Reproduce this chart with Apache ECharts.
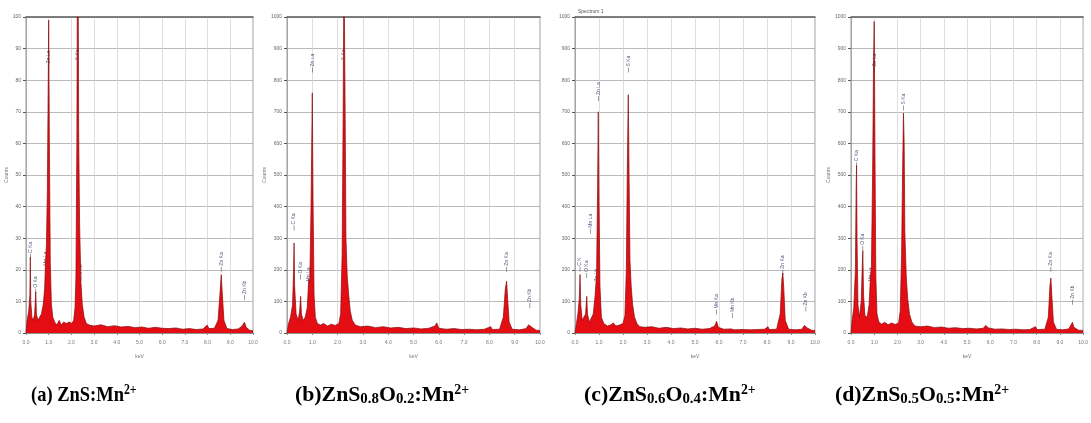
<!DOCTYPE html>
<html>
<head>
<meta charset="utf-8">
<script src="https://cdn.jsdelivr.net/npm/echarts@6/dist/echarts.min.js"></script>
<style>
  html, body { margin: 0; padding: 0; background: #fff; }
  #chart { width: 1091px; height: 423px; }
</style>
</head>
<body>
<div id="chart"></div>
<script>
// EDS spectra, [keV, counts]
const specA = [[0,0],[0.05,4],[0.12,7],[0.17,12],[0.19,24],[0.21,10],[0.26,5],[0.32,4],[0.38,6],[0.43,13],[0.46,6],[0.52,4],[0.6,5],[0.68,6],[0.76,9],[0.82,14],[0.86,22],[0.9,28],[0.94,45],[0.98,80],[1.0,99],[1.03,60],[1.07,22],[1.12,9],[1.18,5],[1.26,3.5],[1.36,2.5],[1.46,4],[1.56,2.5],[1.66,3.5],[1.78,3],[1.9,3.5],[2.02,3],[2.1,4],[2.16,8],[2.2,18],[2.24,60],[2.27,130],[2.3,110],[2.32,64],[2.36,35],[2.42,16],[2.48,9],[2.56,5],[2.66,3],[2.8,2.5],[3.0,2.2],[3.3,2.6],[3.6,2],[3.9,2.3],[4.2,1.9],[4.5,2.1],[4.8,1.7],[5.1,1.9],[5.4,1.5],[5.7,1.8],[6.0,1.5],[6.3,1.4],[6.6,1.6],[6.9,1.2],[7.2,1.4],[7.5,1.1],[7.8,1.3],[7.98,2.5],[8.06,1.4],[8.3,1.5],[8.46,4],[8.54,12],[8.6,18.5],[8.66,11],[8.72,4],[8.85,1.4],[9.1,1.1],[9.35,1.3],[9.52,2.2],[9.62,3.4],[9.7,1.8],[9.85,0.9],[10,0.7]];
const specB = [[0,0],[0.06,30],[0.14,50],[0.22,90],[0.26,200],[0.28,285],[0.3,150],[0.36,60],[0.44,40],[0.5,70],[0.54,116],[0.57,60],[0.64,40],[0.72,50],[0.8,80],[0.86,170],[0.9,160],[0.95,400],[1.0,760],[1.03,420],[1.07,120],[1.12,50],[1.2,30],[1.32,25],[1.45,30],[1.6,22],[1.75,28],[1.9,24],[2.05,30],[2.12,60],[2.18,250],[2.22,700],[2.25,1150],[2.28,900],[2.3,675],[2.33,300],[2.38,180],[2.44,120],[2.5,70],[2.58,40],[2.7,25],[2.9,20],[3.2,22],[3.5,17],[3.8,20],[4.1,16],[4.4,18],[4.7,14],[5.0,16],[5.3,13],[5.6,15],[5.85,22],[5.92,32],[6.0,15],[6.3,12],[6.6,14],[6.9,11],[7.2,12],[7.5,10],[7.8,12],[8.05,20],[8.12,11],[8.4,12],[8.55,50],[8.63,140],[8.68,164],[8.72,110],[8.78,35],[8.9,12],[9.2,10],[9.45,14],[9.55,26],[9.62,30],[9.68,18],[9.85,9],[10,8]];
const specC = [[0,0],[0.06,30],[0.12,60],[0.18,110],[0.21,185],[0.24,90],[0.3,40],[0.38,35],[0.44,60],[0.49,116],[0.52,60],[0.6,35],[0.68,40],[0.76,60],[0.84,120],[0.9,190],[0.94,450],[0.97,700],[1.0,420],[1.04,150],[1.1,50],[1.2,30],[1.35,22],[1.5,26],[1.6,32],[1.7,22],[1.85,25],[2.0,30],[2.08,55],[2.14,200],[2.18,520],[2.22,754],[2.25,520],[2.29,230],[2.34,150],[2.4,90],[2.48,50],[2.58,30],[2.7,20],[2.9,18],[3.2,20],[3.5,15],[3.8,18],[4.1,14],[4.4,16],[4.7,13],[5.0,15],[5.3,12],[5.6,14],[5.82,22],[5.9,37],[5.97,18],[6.2,12],[6.5,13],[6.57,15],[6.65,10],[7.0,11],[7.3,10],[7.6,11],[7.9,12],[8.04,20],[8.1,11],[8.4,12],[8.55,60],[8.62,170],[8.66,190],[8.7,140],[8.76,40],[8.9,12],[9.2,10],[9.45,12],[9.56,24],[9.62,30],[9.68,16],[9.85,9],[10,8]];
const specD = [[0,0],[0.05,40],[0.12,80],[0.19,200],[0.22,450],[0.24,530],[0.26,300],[0.3,90],[0.36,50],[0.44,100],[0.49,220],[0.51,260],[0.54,120],[0.6,55],[0.7,50],[0.78,90],[0.84,180],[0.88,210],[0.93,500],[0.97,850],[1.0,986],[1.03,600],[1.07,180],[1.12,60],[1.2,35],[1.32,28],[1.45,34],[1.6,26],[1.75,32],[1.9,27],[2.05,32],[2.12,70],[2.18,250],[2.22,500],[2.26,696],[2.29,600],[2.32,320],[2.38,180],[2.44,110],[2.52,60],[2.62,35],[2.75,22],[3.0,20],[3.3,22],[3.6,17],[3.9,19],[4.2,15],[4.5,17],[4.8,14],[5.1,15],[5.4,13],[5.7,15],[5.8,24],[5.86,30],[5.93,16],[6.2,12],[6.5,13],[6.8,11],[7.1,12],[7.4,10],[7.7,11],[7.95,20],[8.02,11],[8.35,12],[8.5,50],[8.57,150],[8.61,174],[8.65,120],[8.72,35],[8.85,12],[9.1,10],[9.38,13],[9.48,26],[9.54,34],[9.6,18],[9.8,9],[10,8]];

// peak labels: [keV, counts where the label starts, text]
const peaksA = [[0.19,25,'C Ka'],[0.43,14,'O Ka'],[0.86,21,'Mn La'],[1.0,85,'Zn La'],[2.27,86,'S Ka'],[2.42,18,'S Kb'],[8.6,21,'Zn Ka'],[9.62,12,'Zn Kb']];
const peaksB = [[0.28,340,'C Ka'],[0.54,185,'O Ka'],[0.86,160,'Mn La'],[1.0,840,'Zn La'],[2.25,860,'S Ka'],[2.33,170,'S Kb'],[8.68,210,'Zn Ka'],[9.6,95,'Zn Kb']];
const peaksC = [[0.21,210,'C K'],[0.49,190,'O Ka'],[0.64,330,'Mn La'],[0.9,160,'Zn Lb'],[0.97,750,'Zn La'],[2.22,840,'S Ka'],[2.29,160,'S Kb'],[5.9,74,'Mn Ka'],[6.57,63,'Mn Kb'],[8.66,200,'Zn Ka'],[9.62,84,'Zn Kb']];
const peaksD = [[0.24,540,'C Ka'],[0.51,275,'O Ka'],[0.86,160,'Mn La'],[1.0,840,'Zn La'],[2.26,720,'S Ka'],[2.32,150,'S Kb'],[8.61,210,'Zn Ka'],[9.54,105,'Zn Kb']];

const yMax = [100, 1000, 1000, 1000];
const yStep = [10, 100, 100, 100];
const xTicks = [0, 10, 1];   // min, max, interval (keV)

const captions = [
  '{b|(a) ZnS:Mn}{sup|2+}',
  '{b|(b)ZnS}{sub|0.8}{b|O}{sub|0.2}{b|:Mn}{sup|2+}',
  '{b|(c)ZnS}{sub|0.6}{b|O}{sub|0.4}{b|:Mn}{sup|2+}',
  '{b|(d)ZnS}{sub|0.5}{b|O}{sub|0.5}{b|:Mn}{sup|2+}'
];

const spectra = [specA, specB, specC, specD];
const peaks = [peaksA, peaksB, peaksC, peaksD];

const boxes = [
  { left: 26, width: 227 },
  { left: 287, width: 253 },
  { left: 575, width: 240 },
  { left: 851, width: 238 }
];
const capLeft = [31, 295, 584, 835];
const capScale = [0.84, 0.99, 0.99, 0.99];

const chart = echarts.init(document.getElementById('chart'));

const grid = [], xAxis = [], yAxis = [], series = [];
boxes.forEach((b, i) => {
  grid.push({ left: b.left, width: b.width, top: 17, height: 316, show: true,
    borderColor: '#9a9a9a', borderWidth: 1 });
  xAxis.push({
    type: 'value', gridIndex: i, min: xTicks[0], max: xTicks[1], interval: xTicks[2],
    name: 'keV', nameLocation: 'middle', nameGap: 21,
    nameTextStyle: { fontSize: 5, color: '#777' },
    axisLine: { lineStyle: { color: '#888', width: 0.8 } },
    axisTick: { length: 2, lineStyle: { color: '#888' } },
    axisLabel: { fontSize: 5, color: '#777', margin: 7, formatter: v => v.toFixed(1) },
    splitLine: { lineStyle: { color: '#d6d6d6', width: 0.8 } }
  });
  // thick frame line along the top
  xAxis.push({
    type: 'value', gridIndex: i, position: 'top', min: xTicks[0], max: xTicks[1],
    axisLine: { show: true, lineStyle: { color: '#666', width: 1.6 } },
    axisTick: { show: false }, axisLabel: { show: false }, splitLine: { show: false }
  });
  yAxis.push({
    type: 'value', gridIndex: i, min: 0, max: yMax[i], interval: yStep[i],
    name: i === 2 ? '' : 'Counts', nameLocation: 'middle', nameGap: 15,
    nameTextStyle: { fontSize: 5, color: '#777' },
    axisLine: { show: true, lineStyle: { color: '#999', width: 0.8 } },
    axisTick: { show: true, length: 3, lineStyle: { color: '#555', width: 1 } },
    axisLabel: { fontSize: 5, color: '#666', margin: 5, formatter: v => String(v) },
    splitLine: { lineStyle: { color: '#a8a8a8', width: 0.8 } }
  });
  series.push({
    type: 'line', xAxisIndex: i * 2, yAxisIndex: i, data: spectra[i],
    symbol: 'none', clip: true, silent: true,
    lineStyle: { color: '#8a0b0b', width: 0.7 },
    areaStyle: { color: '#e50d14', opacity: 1 }
  });
  series.push({
    type: 'scatter', xAxisIndex: i * 2, yAxisIndex: i, symbol: 'rect', symbolSize: [0.6, 5],
    symbolOffset: [0, 2.5],
    itemStyle: { color: '#333' }, silent: true,
    data: peaks[i].map(p => ({ value: [p[0], p[1]], name: p[2] })),
    label: {
      show: true, position: 'top', rotate: 90, align: 'left', verticalAlign: 'middle',
      distance: 1, formatter: '{b}', fontSize: 5, color: '#23305e'
    }
  });
});

const graphic = captions.map((c, i) => ({
  type: 'text', x: capLeft[i], y: 383, scaleX: capScale[i],
  style: {
    text: c,
    rich: {
      b: { fontFamily: 'Liberation Serif', fontWeight: 'bold', fontSize: 22, fill: '#000' },
      sub: { fontFamily: 'Liberation Serif', fontWeight: 'bold', fontSize: 15, fill: '#000', verticalAlign: 'bottom', padding: [9, 0, 0, 0] },
      sup: { fontFamily: 'Liberation Serif', fontWeight: 'bold', fontSize: 14, fill: '#000', verticalAlign: 'top', padding: [0, 0, 10, 0] }
    }
  }
}));
graphic.push({
  type: 'text', x: 578, y: 9,
  style: { text: 'Spectrum 1', fontSize: 5, fill: '#555' }
});

chart.setOption({
  animation: false,
  grid, xAxis, yAxis, series, graphic
});
</script>
</body>
</html>
